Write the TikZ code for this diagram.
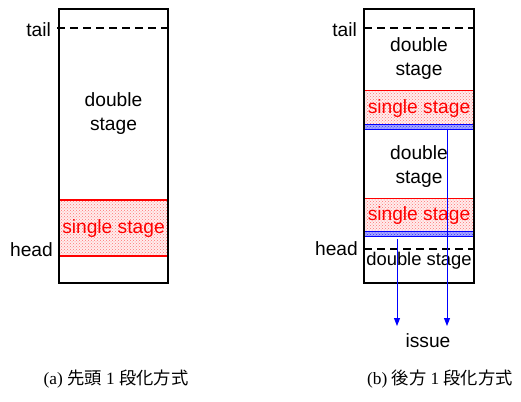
\documentclass[tikz,border=0pt]{standalone}
\usepackage{fontspec}
\usetikzlibrary{patterns,arrows.meta}
\newfontfamily\lsans{Liberation Sans}
\newfontfamily\lserif{Liberation Serif}
\newfontfamily\cjk{Noto Sans CJK JP}
\tikzset{
  lbl/.style={font=\lsans\fontsize{19.2}{24}\selectfont, inner sep=0pt},
  stagetxt/.style={lbl, align=center},
  singletxt/.style={lbl, text=red},
  boxline/.style={draw=black, line width=1.6pt},
  dashline/.style={draw=black, line width=1.3pt, dash pattern=on 8pt off 5pt},
  redbg/.style={fill=red!7},
  redband/.style={pattern=crosshatch dots, pattern color=red!55},
  bluebg/.style={fill=blue!35},
  blueband/.style={pattern=crosshatch dots, pattern color=blue!80},
  issuearrow/.style={draw=blue, line width=0.9pt, -{Triangle[length=8pt,width=6pt]}},
  captxt/.style={font=\fontsize{17.3}{20}\selectfont, inner sep=0pt}
}
\begin{document}
\begin{tikzpicture}[x=1pt,y=-1pt]
\useasboundingbox (0,0) rectangle (521,401);
% ---------- (a) ----------
\fill[redbg] (59,200) rectangle (168,256);
\fill[redband] (59,200) rectangle (168,256);
\draw[red, line width=1.2pt] (59,200) -- (168,200);
\draw[red, line width=1.2pt] (59,256) -- (168,256);
\node[boxline, minimum width=109pt, minimum height=274pt, inner sep=0pt] (boxa) at (113.5,146) {};
\draw[dashline] (57,28) -- (168,28);
\node[lbl, anchor=east] (taila) at (51,30) {tail};
\node[lbl, anchor=east] (heada) at (53,250) {head};
\node[stagetxt] (dsa) at (113.5,114) {double\\stage};
\node[singletxt] (ssa) at (113.5,229) {single stage};
% ---------- (b) ----------
\fill[redbg] (364,91) rectangle (474,124);
\fill[redband] (364,91) rectangle (474,124);
\draw[red, line width=1pt] (364,91) -- (474,91);
\fill[bluebg] (364,124) rectangle (474,129);
\fill[blueband] (364,124) rectangle (474,129);
\draw[blue, line width=0.9pt] (364,124) -- (474,124);
\draw[blue, line width=0.9pt] (364,129) -- (474,129);
\fill[redbg] (364,198) rectangle (474,231);
\fill[redband] (364,198) rectangle (474,231);
\draw[red, line width=1pt] (364,198) -- (474,198);
\fill[bluebg] (364,231) rectangle (474,236);
\fill[blueband] (364,231) rectangle (474,236);
\draw[blue, line width=0.9pt] (364,231) -- (474,231);
\draw[blue, line width=0.9pt] (364,236) -- (474,236);
\node[boxline, minimum width=110pt, minimum height=274pt, inner sep=0pt] (boxb) at (419,146) {};
\draw[dashline] (364,28) -- (474,28);
\draw[dashline] (364,249) -- (474,249);
\node[lbl, anchor=east] (tailb) at (357,30) {tail};
\node[lbl, anchor=east] (headb) at (358,249) {head};
\node[stagetxt] (ds1) at (419,59) {double\\stage};
\node[singletxt] (ss1) at (419,109) {single stage};
\node[stagetxt] (ds2) at (419,167) {double\\stage};
\node[singletxt] (ss2) at (419,216) {single stage};
\node[lbl, font=\lsans\fontsize{18.4}{24}\selectfont] (ds3) at (419,261) {double stage};
\node[lbl] (issue) at (428,341) {issue};
\coordinate (s1) at (397,239);
\coordinate (e1) at (397,326);
\coordinate (s2) at (447,129);
\coordinate (e2) at (447,326);
\draw[issuearrow] (s1) -- (e1);
\draw[issuearrow] (s2) -- (e2);
% ---------- captions ----------
\node[captxt] (capa) at (116,379) {\lserif (a)\ {\cjk 先頭}\ 1\ {\cjk 段化方式}};
\node[captxt] (capb) at (440,379) {\lserif (b)\ {\cjk 後方}\ 1\ {\cjk 段化方式}};
\end{tikzpicture}
\end{document}
